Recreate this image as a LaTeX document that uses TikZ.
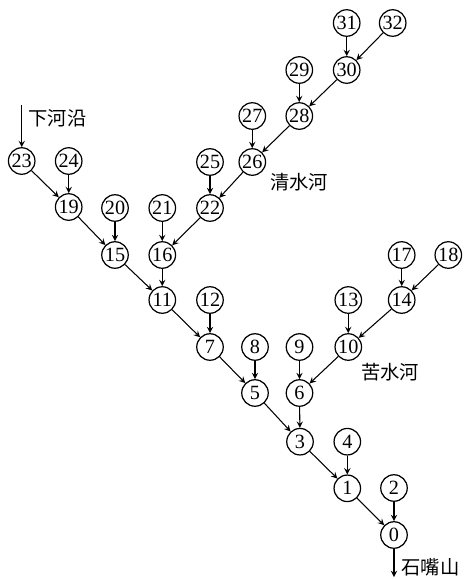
\documentclass[tikz,border=0pt]{standalone}
\usepackage{fontspec}
\setmainfont{Liberation Serif}
\newfontfamily\cjk{Noto Sans CJK SC}
\usetikzlibrary{arrows}
\tikzset{>=stealth}
\tikzset{
  station/.style={circle,draw,line width=0.7pt,inner sep=0pt,minimum size=0.53cm,font=\fontsize{11.5}{12}\selectfont},
  river/.style={font=\cjk\fontsize{11}{12}\selectfont,inner sep=0pt},
  flow/.style={->,line width=0.6pt}
}

\begin{document}
\begin{tikzpicture}[x=0.02cm,y=-0.02cm]
    \useasboundingbox (0,0) rectangle (464,579);
    % stations
    \foreach \n/\x/\y in {31/346.7/23,32/392.7/23,30/346.7/70,29/299.3/70,
        28/299.3/116,27/252.3/116,26/252.3/162,25/210/162,
        23/21.7/161,24/68.7/161,19/68.7/207,20/115/208,21/162.3/208,22/210/208,
        15/115/255,16/162.3/255,17/401.7/255,18/448.3/255,
        11/162.3/300,12/210/300,13/348.3/300,14/401.7/300,
        7/210/347,8/255/347,9/299.5/347,10/348.3/347,
        5/255/393,6/299.5/393,3/300/441.7,4/347.3/441.7,
        1/347.3/488.3,2/394/488,0/394/535} {
        \node[station] (n\n) at (\x,\y) {\n};
      }
    % links
    \foreach \a/\b in {31/30,32/30,30/28,29/28,28/26,27/26,26/22,25/22,
        22/16,21/16,16/11,20/15,24/19,23/19,19/15,15/11,11/7,12/7,
        7/5,8/5,5/3,9/6,6/3,13/10,17/14,18/14,14/10,10/6,
        3/1,4/1,1/0,2/0} {
        \draw[flow] (n\a) -- (n\b);
      }
    \coordinate (src) at (21.7,105);
    \coordinate (sink) at (394,577);
    \draw[flow] (src) -- (n23);
    \draw[flow] (n0) -- (sink);
    \node[river,anchor=west] (xhy) at (28,118) {下河沿};
    \node[river] (qsh) at (299,182) {清水河};
    \node[river] (ksh) at (390,372) {苦水河};
    \node[river,anchor=west] (szs) at (401,567) {石嘴山};
  \end{tikzpicture}
\end{document}
